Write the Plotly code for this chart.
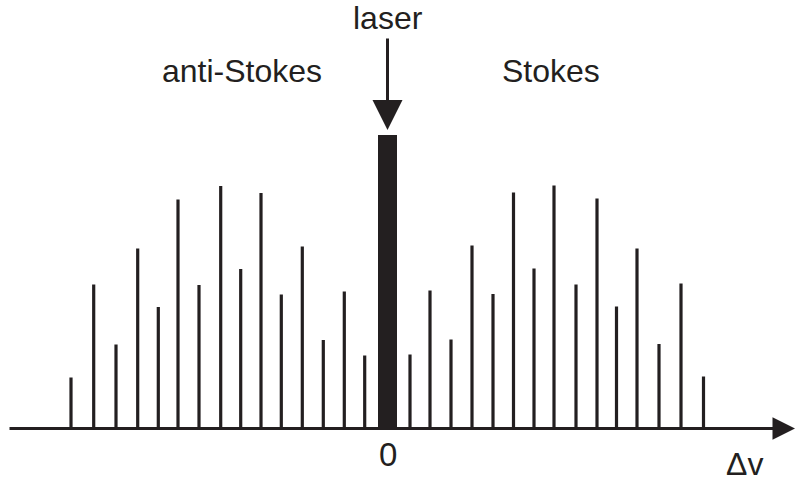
import plotly.graph_objects as go

# Rotational Raman spectrum: line positions (Raman shift, arbitrary units) and intensities
stokes_shift = [22.5, 42.5, 63.5, 84.5, 105.5, 126, 146.5, 166.5, 188.5, 209.5, 229, 249.5, 271.5, 293.5, 316]
stokes_int = [74, 138, 89, 183, 134.5, 236, 160, 243, 144, 230, 122, 180, 84.5, 145, 52]

antistokes_shift = [-22.8, -43.2, -64.2, -85.2, -106.2, -126.5, -146.8, -166.8, -188.5, -209.5, -229.2, -249.8, -271.5, -293.8, -316.5]
antistokes_int = [73, 137, 88.5, 182, 134, 235.5, 159.5, 242.5, 143.5, 229, 121.5, 180, 84, 144, 51]

laser_shift = [0]
laser_int = [293.5]

INK = "#231f20"
FONT = "Liberation Sans, Arial, sans-serif"

x_range = [-387.5, 407.5]
y_range = [-53.5, 428.5]


def stems(xs, ys):
    px, py = [], []
    for x, y in zip(xs, ys):
        px += [x, x, None]
        py += [0, y, None]
    return px, py


fig = go.Figure()

for xs, ys in [(antistokes_shift, antistokes_int), (stokes_shift, stokes_int)]:
    sx, sy = stems(xs, ys)
    fig.add_trace(go.Scatter(x=sx, y=sy, mode="lines",
                             line=dict(color=INK, width=3.2),
                             hoverinfo="skip", showlegend=False))

# Rayleigh (laser) line
fig.add_trace(go.Bar(x=laser_shift, y=laser_int, width=19.6,
                     marker=dict(color=INK, line=dict(width=0)),
                     hoverinfo="skip", showlegend=False))

annotations = [
    # Δν axis with arrow
    dict(x=x_range[1], y=0, ax=x_range[0] + 8, ay=0, axref="x", ayref="y",
         xref="x", yref="y", text="", showarrow=True, arrowhead=2,
         arrowsize=1.5, arrowwidth=3, arrowcolor=INK, standoff=0),
    # laser arrow pointing at the Rayleigh line
    dict(x=laser_shift[0], y=laser_int[0] + 5, ax=laser_shift[0], ay=laser_int[0] + 98,
         axref="x", ayref="y", xref="x", yref="y", text="", showarrow=True,
         arrowhead=2, arrowsize=2.0, arrowwidth=3, arrowcolor=INK, standoff=0),
    dict(x=0, y=411, xref="x", yref="y", text="laser", showarrow=False,
         font=dict(family=FONT, size=32, color=INK)),
    dict(x=-145.5, y=358, xref="x", yref="y", text="anti-Stokes", showarrow=False,
         font=dict(family=FONT, size=32, color=INK)),
    dict(x=163.5, y=358, xref="x", yref="y", text="Stokes", showarrow=False,
         font=dict(family=FONT, size=32, color=INK)),
    dict(x=0.5, y=-26, xref="x", yref="y", text="0", showarrow=False,
         font=dict(family=FONT, size=33, color=INK)),
    dict(x=356.5, y=-35, xref="x", yref="y", text="Δv", showarrow=False,
         font=dict(family=FONT, size=32, color=INK)),
]

fig.update_layout(
    width=795, height=482,
    margin=dict(l=0, r=0, t=0, b=0),
    paper_bgcolor="white", plot_bgcolor="white",
    xaxis=dict(range=x_range, visible=False, fixedrange=True),
    yaxis=dict(range=y_range, visible=False, fixedrange=True),
    annotations=annotations,
    bargap=0,
)

fig.write_html("out.html", config={"displayModeBar": False})
